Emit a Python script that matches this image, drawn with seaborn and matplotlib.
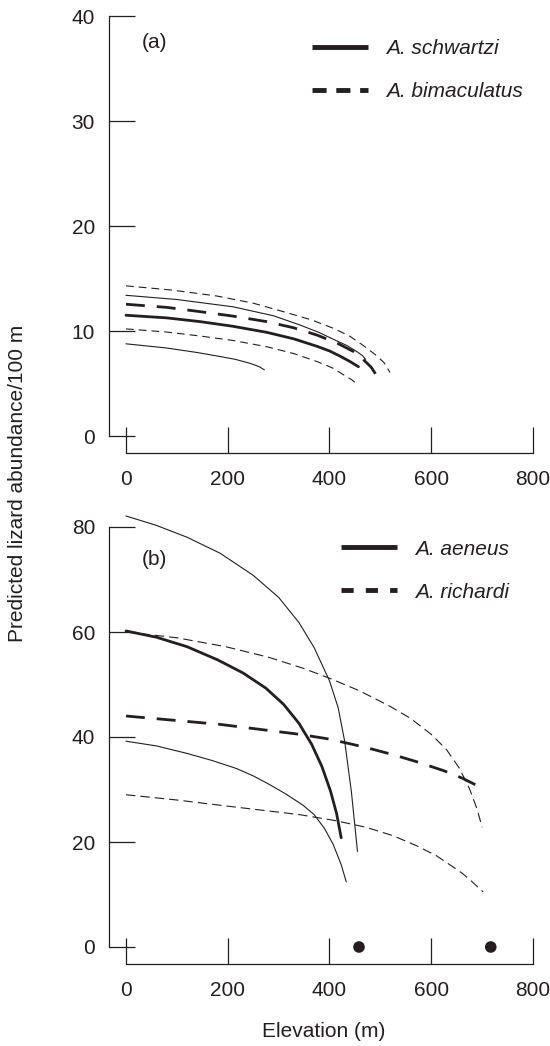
import matplotlib
matplotlib.use("Agg")
import matplotlib.pyplot as plt
import seaborn as sns
from matplotlib.lines import Line2D

# ---------------- data ----------------
# Panel (a)
sch_mean_x = [0, 80, 146, 210, 277, 330, 375, 400, 421, 440, 450, 457]
sch_mean_y = [11.5, 11.25, 10.89, 10.45, 9.87, 9.25, 8.55, 8.1, 7.6, 7.1, 6.8, 6.6]
sch_up_x = [0, 100, 211, 290, 342, 380, 408, 435, 454, 465, 471]
sch_up_y = [13.4, 13.0, 12.3, 11.45, 10.57, 9.85, 9.2, 8.6, 8.03, 7.65, 7.3]
sch_lo_x = [0, 80, 140, 179, 215, 244, 262, 272]
sch_lo_y = [8.78, 8.38, 7.95, 7.62, 7.3, 6.92, 6.6, 6.3]

bim_mean_x = [0, 80, 146, 210, 277, 330, 375, 415, 447, 465, 482, 496]
bim_mean_y = [12.55, 12.25, 11.84, 11.42, 10.89, 10.3, 9.62, 8.85, 8.05, 7.35, 6.55, 5.5]
bim_up_x = [0, 90, 179, 250, 316, 365, 408, 440, 467, 490, 507, 519]
bim_up_y = [14.3, 13.9, 13.33, 12.65, 11.75, 11.05, 10.25, 9.5, 8.6, 7.75, 7.0, 6.05]
bim_lo_x = [0, 80, 146, 210, 277, 330, 375, 405, 427, 444, 454]
bim_lo_y = [10.2, 9.9, 9.52, 9.1, 8.5, 7.85, 7.1, 6.5, 5.85, 5.35, 4.95]

# Panel (b)
aen_up_x = [0, 60, 120, 185, 250, 300, 340, 370, 400, 417, 430, 443, 455]
aen_up_y = [82.1, 80.3, 78.05, 75.0, 70.8, 66.6, 61.8, 57.0, 50.7, 45.6, 39.1, 29.6, 18.2]
aen_mean_x = [0, 60, 120, 180, 230, 275, 310, 340, 365, 385, 402, 414, 423]
aen_mean_y = [60.2, 59.0, 57.2, 54.7, 52.2, 49.3, 46.2, 42.6, 38.6, 34.4, 29.7, 25.4, 20.8]
aen_lo_x = [0, 60, 119, 170, 217, 250, 283, 315, 348, 370, 390, 407, 423, 433]
aen_lo_y = [39.2, 38.3, 36.9, 35.5, 34.0, 32.6, 30.9, 29.1, 27.0, 25.2, 22.6, 19.6, 15.7, 12.4]

ric_mean_x = [0, 185, 342, 400, 472, 526, 571, 624, 660, 685, 702]
ric_mean_y = [44.0, 42.4, 40.5, 39.6, 38.0, 36.6, 35.3, 33.6, 32.2, 31.0, 30.0]
ric_up_x = [0, 100, 196, 280, 348, 400, 459, 518, 560, 600, 630, 655, 675, 690, 700]
ric_up_y = [60.0, 58.9, 57.2, 55.2, 53.1, 51.2, 48.8, 45.9, 43.5, 40.5, 37.6, 34.1, 30.2, 26.3, 22.8]
ric_lo_x = [0, 100, 185, 342, 410, 472, 525, 571, 610, 636, 660, 675, 702]
ric_lo_y = [29.0, 28.0, 27.0, 25.2, 24.1, 22.8, 21.2, 19.3, 17.4, 15.7, 14.1, 12.9, 10.5]

zero_x = [458, 717]
zero_y = [0, 0]

x_ticks = [0, 200, 400, 600, 800]
ya_ticks = [0, 10, 20, 30, 40]
yb_ticks = [0, 20, 40, 60, 80]

labels_a = ["A. schwartzi", "A. bimaculatus"]
labels_b = ["A. aeneus", "A. richardi"]

# ---------------- style ----------------
sns.set_theme(style="white")
plt.rcParams["font.family"] = ["Liberation Sans", "DejaVu Sans"]
INK = "#231f20"
FS = 15

W, H = 550, 1046
fig = plt.figure(figsize=(W / 100, H / 100), dpi=100)


def add_axes(left, top, width, height):
    return fig.add_axes([left / W, 1 - (top + height) / H, width / W, height / H])


XL = (-33.4, 812)
XSCALE = 0.50875  # px per elevation unit
ax_a = add_axes(109, 436 - 40.5 * 10.5, (XL[1] - XL[0]) * XSCALE, (40.5 + 1.62) * 10.5)
ax_b = add_axes(109, 947 - 83.5 * 5.25, (XL[1] - XL[0]) * XSCALE, (83.5 + 3.24) * 5.25)
ax_a.set_xlim(*XL)
ax_a.set_ylim(-1.62, 40.5)
ax_b.set_xlim(*XL)
ax_b.set_ylim(-3.24, 83.5)

THICK, THIN = 2.0, 0.8
DASH_THICK = (6.8, 4.3)
DASH_THIN_A = (7.0, 4.5)
DASH_THIN_B = (8.5, 4.5)


def curve(ax, x, y, lw, dashes=None):
    sns.lineplot(x=x, y=y, ax=ax, color=INK, linewidth=lw, estimator=None, sort=False)
    line = ax.lines[-1]
    if dashes is not None:
        line.set_dashes(dashes)
    line.set_dash_capstyle("butt")
    line.set_solid_joinstyle("round")


# panel a
curve(ax_a, bim_up_x, bim_up_y, THIN, DASH_THIN_A)
curve(ax_a, sch_up_x, sch_up_y, THIN)
curve(ax_a, bim_mean_x, bim_mean_y, THICK, DASH_THICK)
curve(ax_a, sch_mean_x, sch_mean_y, THICK)
curve(ax_a, bim_lo_x, bim_lo_y, THIN, DASH_THIN_A)
curve(ax_a, sch_lo_x, sch_lo_y, THIN)

# panel b
curve(ax_b, aen_up_x, aen_up_y, THIN)
curve(ax_b, aen_mean_x, aen_mean_y, THICK)
curve(ax_b, aen_lo_x, aen_lo_y, THIN)
curve(ax_b, ric_up_x, ric_up_y, THIN, DASH_THIN_B)
curve(ax_b, ric_mean_x, ric_mean_y, THICK, DASH_THICK)
curve(ax_b, ric_lo_x, ric_lo_y, THIN, DASH_THIN_B)
sns.scatterplot(x=zero_x, y=zero_y, ax=ax_b, color=INK, s=70, edgecolor="none",
                zorder=5, clip_on=False)

for ax, yt in ((ax_a, ya_ticks), (ax_b, yb_ticks)):
    for s in ("top", "right"):
        ax.spines[s].set_visible(False)
    for s in ("left", "bottom"):
        ax.spines[s].set_color(INK)
        ax.spines[s].set_linewidth(0.9)
    ax.spines["left"].set_bounds(yt[0], yt[-1])
    ax.spines["bottom"].set_bounds(x_ticks[0], x_ticks[-1])
    ax.set_xticks(x_ticks)
    ax.set_yticks(yt)
    ax.tick_params(axis="both", which="major", direction="in", length=19, width=0.9,
                   color=INK, labelcolor=INK, labelsize=FS,
                   bottom=True, left=True, top=False, right=False)
    ax.tick_params(axis="y", pad=10)
    ax.tick_params(axis="x", pad=12)
    ax.set_xlabel("")
    ax.set_ylabel("")
    ax.grid(False)

ax_a.text(31, 37.5, "(a)", fontsize=FS, color=INK, va="center", ha="left")
ax_b.text(31, 73.8, "(b)", fontsize=FS, color=INK, va="center", ha="left")

ax_b.set_xlabel("Elevation (m)", fontsize=FS, color=INK, labelpad=16)
fig.text(18 / W, 1 - 483 / H, "Predicted lizard abundance/100 m", rotation=90,
         ha="center", va="center", fontsize=FS, color=INK)


def legend(ax, labels, anchor, dashes):
    h = [Line2D([], [], color=INK, lw=3.5, solid_capstyle="butt"),
         Line2D([], [], color=INK, lw=3.5, dashes=dashes, dash_capstyle="butt")]
    leg = ax.legend(h, labels, loc="upper left", bbox_to_anchor=anchor, frameon=False,
                    borderpad=0, borderaxespad=0, handlelength=2.7, handletextpad=0.85,
                    labelspacing=1.15, prop={"style": "italic", "size": FS})
    for t in leg.get_texts():
        t.set_color(INK)


legend(ax_a, labels_a, (0.472, 0.936), (2.9, 2.0))
legend(ax_b, labels_b, (0.539, 0.932), (2.5, 2.5))

fig.savefig("out.png", dpi=100)
